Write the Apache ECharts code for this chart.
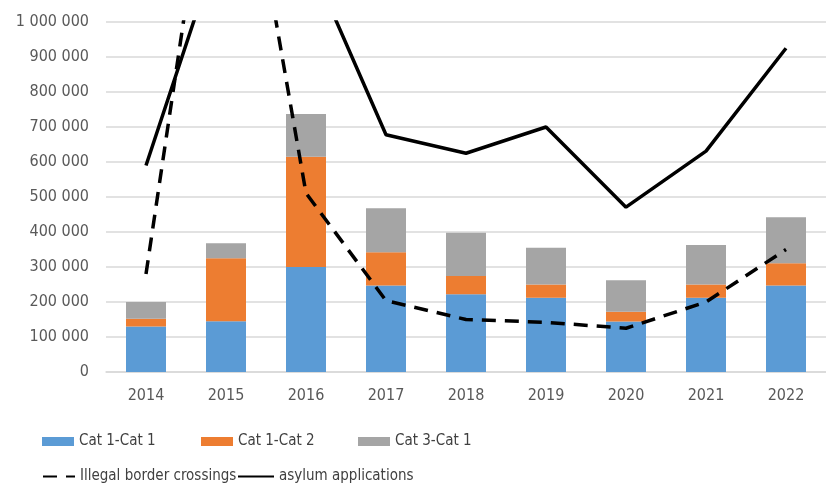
<!DOCTYPE html>
<html>
<head>
<meta charset="utf-8">
<script src="https://cdn.jsdelivr.net/npm/echarts@6/dist/echarts.min.js"></script>
<style>
  html, body { margin: 0; padding: 0; background: #fff; }
  #chart { width: 826px; height: 484px; }
</style>
</head>
<body>
<div id="chart"></div>
<script>
const years = ["2014", "2015", "2016", "2017", "2018", "2019", "2020", "2021", "2022"];
const cat11 = [130000, 145000, 300000, 247000, 222000, 212000, 144000, 212000, 247000];
const cat12 = [22000, 180000, 315000, 95000, 52000, 38000, 28000, 38000, 64000];
const cat31 = [48000, 43000, 122000, 126000, 124000, 105000, 90000, 113000, 131000];
const illegalCrossings = [280000, 1820000, 511000, 204000, 150000, 142000, 125000, 200000, 350000];
const asylumApps = [590000, 1280000, 1200000, 678000, 625000, 700000, 471000, 631000, 925000];
const yTicks = [0, 100000, 200000, 300000, 400000, 500000, 600000, 700000, 800000, 900000, 1000000];

const font = '"DejaVu Sans Condensed", "Liberation Sans", sans-serif';
const chart = echarts.init(document.getElementById("chart"));

const fmt = (v) => String(v).replace(/\B(?=(\d{3})+(?!\d))/g, " ");

const legendText = { color: "#404040", fontSize: 15, fontFamily: font };
const mkLegend = (name, left, top, w, h, icon) => ({
  data: [{ name: name, icon: icon }],
  left: left,
  top: top,
  itemWidth: w,
  itemHeight: h,
  itemGap: 2,
  textStyle: legendText,
  selectedMode: false,
});
const mkLineLegend = (name, left, top, w) => {
  const l = mkLegend(name, left, top, w, 4);
  l.itemStyle = { opacity: 0 };
  return l;
};

const option = {
  animation: false,
  grid: { left: 106, top: 22, width: 728, height: 350 },
  xAxis: {
    type: "category",
    data: years,
    axisTick: { show: false },
    axisLine: { lineStyle: { color: "#d9d9d9", width: 1.5 } },
    axisLabel: { color: "#595959", fontSize: 16, fontFamily: font, margin: 16 },
  },
  yAxis: {
    type: "value",
    min: yTicks[0],
    max: yTicks[yTicks.length - 1],
    interval: 100000,
    axisLabel: { color: "#595959", fontSize: 16, fontFamily: font, margin: 17, formatter: fmt },
    splitLine: { lineStyle: { color: "#d9d9d9", width: 1.5 } },
  },
  legend: [
    mkLegend("Cat 1-Cat 1", 37, 429, 32, 9, "rect"),
    mkLegend("Cat 1-Cat 2", 196, 429, 32, 9, "rect"),
    mkLegend("Cat 3-Cat 1", 353, 429, 32, 9, "rect"),
    mkLineLegend("Illegal border crossings", 37, 464, 32),
    mkLineLegend("asylum applications", 232, 464, 36),
  ],
  series: [
    {
      name: "Cat 1-Cat 1", type: "bar", stack: "c", data: cat11, barWidth: 40,
      itemStyle: { color: "#5b9bd5" },
    },
    {
      name: "Cat 1-Cat 2", type: "bar", stack: "c", data: cat12,
      itemStyle: { color: "#ed7d31" },
    },
    {
      name: "Cat 3-Cat 1", type: "bar", stack: "c", data: cat31,
      itemStyle: { color: "#a5a5a5" },
    },
    {
      name: "Illegal border crossings", type: "line", data: illegalCrossings,
      symbol: "none", clip: true, z: 5,
      lineStyle: { color: "#000", width: 3.5, type: [14, 9] },
      itemStyle: { color: "#000" },
    },
    {
      name: "asylum applications", type: "line", data: asylumApps,
      symbol: "none", clip: true, z: 5,
      lineStyle: { color: "#000", width: 3.5 },
      itemStyle: { color: "#000" },
    },
  ],
};
chart.setOption(option);
</script>
</body>
</html>
